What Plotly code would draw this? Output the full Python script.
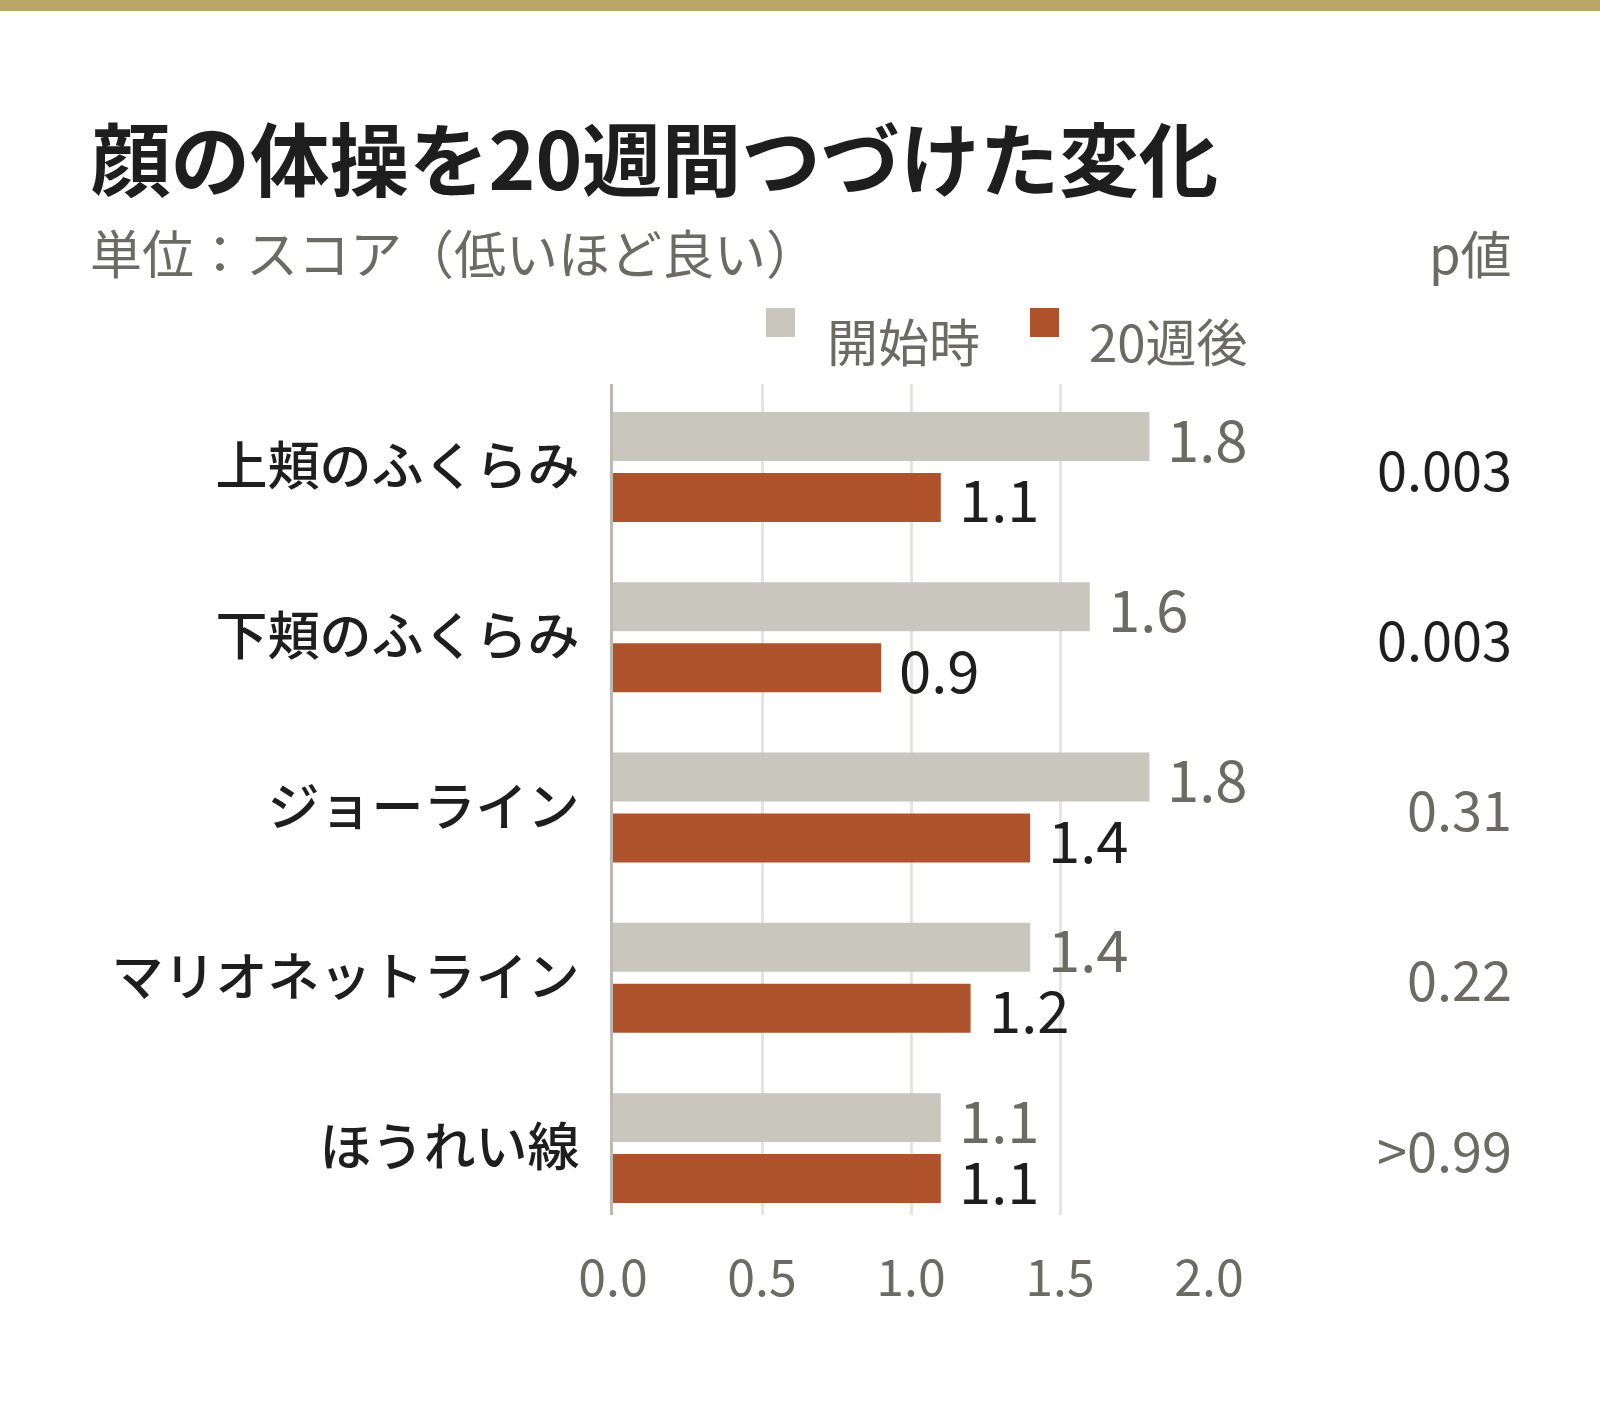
import plotly.graph_objects as go

# ── Data ─────────────────────────────────────────────
categories = ["上頬のふくらみ", "下頬のふくらみ", "ジョーライン", "マリオネットライン", "ほうれい線"]
baseline = [1.8, 1.6, 1.8, 1.4, 1.1]
week20 = [1.1, 0.9, 1.4, 1.2, 1.1]
p_values = ["0.003", "0.003", "0.31", "0.22", ">0.99"]
significant = [True, True, False, False, False]
x_ticks = [0.0, 0.5, 1.0, 1.5, 2.0]

# ── Style ────────────────────────────────────────────
FONT = "Noto Sans CJK JP"
GOLD = "#b8a768"
GRAY_BAR = "#c9c6be"
ORANGE = "#ae532b"
INK = "#1e1e1e"
MUTED = "#6b6b63"
GRID = "#e6e4de"
AXIS = "#bcb9b0"

W, H = 1600, 1422
PLOT_L, PLOT_R = 613, 1209
PLOT_T, PLOT_B = 384, 1215
RIGHT_COL = 1514
BARGAP = 0.284
BARGROUPGAP = 0.197
Y_RANGE = [4.393, -0.4875]


def px_x(x):
    return (x - PLOT_L) / (PLOT_R - PLOT_L)


def px_y(y):
    return (PLOT_B - y) / (PLOT_B - PLOT_T)


fig = go.Figure()

fig.add_trace(go.Bar(
    y=categories, x=baseline, orientation="h", name="開始時",
    marker=dict(color=GRAY_BAR, line_width=0),
))
fig.add_trace(go.Bar(
    y=categories, x=week20, orientation="h", name="20週後",
    marker=dict(color=ORANGE, line_width=0),
))

# value labels next to each bar
half = (1 - BARGAP) / 4
for i, (b, a) in enumerate(zip(baseline, week20)):
    fig.add_annotation(x=b, y=i - half, text=f"{b:.1f}", showarrow=False,
                       xanchor="left", yanchor="middle", xshift=16, height=58,
                       font=dict(family=FONT, size=58, color=MUTED))
    fig.add_annotation(x=a, y=i + half, text=f"{a:.1f}", showarrow=False,
                       xanchor="left", yanchor="middle", xshift=16, height=58,
                       font=dict(family=FONT, size=58, color=INK))

# p-value column
for i, (p, sig) in enumerate(zip(p_values, significant)):
    fig.add_annotation(x=px_x(RIGHT_COL), xref="paper", y=i, yref="y", text=p,
                       showarrow=False, xanchor="right", yanchor="middle",
                       font=dict(family=FONT, size=54, color=INK if sig else MUTED))

# ── Header texts ─────────────────────────────────────
fig.add_annotation(x=px_x(89), y=px_y(155), xref="paper", yref="paper",
                   text="<b>顔の体操を20週間つづけた変化</b>", showarrow=False,
                   xanchor="left", yanchor="middle",
                   font=dict(family=FONT, size=79.5, color=INK))
fig.add_annotation(x=px_x(88), y=px_y(252), xref="paper", yref="paper",
                   text="単位：スコア（低いほど良い）", showarrow=False,
                   xanchor="left", yanchor="middle",
                   font=dict(family=FONT, size=52, color=MUTED))
fig.add_annotation(x=px_x(RIGHT_COL), y=px_y(252), xref="paper", yref="paper",
                   text="p値", showarrow=False,
                   xanchor="right", yanchor="middle",
                   font=dict(family=FONT, size=51, color=MUTED))

# ── Legend (drawn by hand) ───────────────────────────
legend_items = [("開始時", GRAY_BAR, 766, 825), ("20週後", ORANGE, 1030, 1087)]
for label, color, sq_x, tx_x in legend_items:
    fig.add_shape(type="rect", xref="paper", yref="paper",
                  x0=px_x(sq_x), x1=px_x(sq_x + 29),
                  y0=px_y(337), y1=px_y(308),
                  fillcolor=color, line_width=0)
    fig.add_annotation(x=px_x(tx_x), y=px_y(340), xref="paper", yref="paper",
                       text=label, showarrow=False, xanchor="left", yanchor="middle",
                       font=dict(family=FONT, size=51, color=MUTED))

# top gold rule
fig.add_shape(type="rect", xref="paper", yref="paper",
              x0=px_x(0), x1=px_x(W), y0=px_y(11), y1=px_y(0),
              fillcolor=GOLD, line_width=0)

# ── Layout ───────────────────────────────────────────
fig.update_layout(
    width=W, height=H,
    margin=dict(l=PLOT_L, r=W - PLOT_R, t=PLOT_T, b=H - PLOT_B, autoexpand=False),
    paper_bgcolor="white", plot_bgcolor="white",
    barmode="group", bargap=BARGAP, bargroupgap=BARGROUPGAP,
    showlegend=False,
    font=dict(family=FONT, color=INK),
)
fig.update_xaxes(
    range=[0, 2], tickvals=x_ticks, ticktext=[f"{v:.1f}" for v in x_ticks],
    showgrid=True, gridcolor=GRID, gridwidth=3, zeroline=False,
    showline=False, ticks="", ticklabelstandoff=30,
    tickfont=dict(family=FONT, size=50, color=MUTED),
)
fig.update_yaxes(
    range=Y_RANGE, showgrid=False, zeroline=False,
    showline=True, linecolor=AXIS, linewidth=3, ticks="",
    ticklabelstandoff=20,
    tickfont=dict(family=FONT, size=52, color=INK, weight=500),
)

# page body has a default margin; drop it so the chart sits at the window edge
fig.write_html("out.html", config={"displayModeBar": False},
               post_script="document.body.style.margin='0';")
